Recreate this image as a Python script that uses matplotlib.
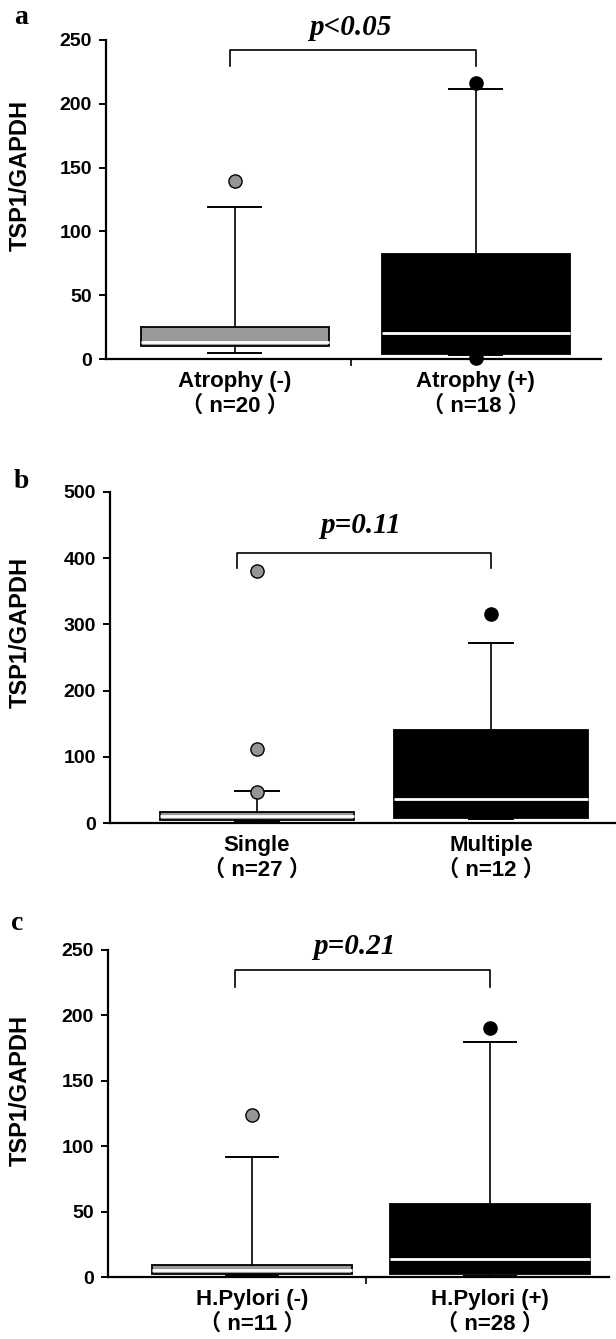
import matplotlib
matplotlib.use('Agg')
import matplotlib.pyplot as plt

plt.rcParams['font.family'] = ['Liberation Sans', 'Noto Sans CJK JP']
plt.rcParams['font.weight'] = 'bold'

# ---- data ----
a_labels = ['Atrophy (-)', 'Atrophy (+)']
a_n = [20, 18]
a_q1 = [10, 4]
a_med = [13.5, 20.5]
a_q3 = [25, 82.5]
a_lo = [5, 3]
a_hi = [119, 211.5]
a_out = [[139.5], [216.5, 0.8]]
a_p = 'p<0.05'

b_labels = ['Single', 'Multiple']
b_n = [27, 12]
b_q1 = [4, 8]
b_med = [10, 36]
b_q3 = [16.5, 141]
b_lo = [2.5, 5.5]
b_hi = [48.5, 272.5]
b_out = [[47, 112, 381], [316]]
b_p = 'p=0.11'

c_labels = ['H.Pylori (-)', 'H.Pylori (+)']
c_n = [11, 28]
c_q1 = [2.3, 2.3]
c_med = [5.6, 13.7]
c_q3 = [9.4, 56]
c_lo = [1.5, 1]
c_hi = [92, 180]
c_out = [[124], [190.5]]
c_p = 'p=0.21'

W, H = 616, 1339
fig = plt.figure(figsize=(W / 100, H / 100), dpi=100)


def px_axes(left, right, top, bottom):
    return fig.add_axes([left / W, 1 - bottom / H, (right - left) / W, (bottom - top) / H])


def draw_panel(ax, labels, n, q1, med, q3, lo, hi, out, ptxt, ymax, ystep, xlim,
               widths, capw, bracket, ptext_xy, midtick=True):
    stats = []
    for i in range(2):
        stats.append(dict(med=med[i], q1=q1[i], q3=q3[i], whislo=lo[i],
                          whishi=hi[i], fliers=out[i]))
    bp = ax.bxp(stats, positions=[1, 2], widths=widths, capwidths=capw,
                patch_artist=True, showfliers=True,
                boxprops=dict(edgecolor='black', linewidth=1.3),
                medianprops=dict(color='white', linewidth=2),
                whiskerprops=dict(color='black', linewidth=1.2),
                capprops=dict(color='black', linewidth=1.4))
    for box, fc in zip(bp['boxes'], ['#999999', 'black']):
        box.set_facecolor(fc)
    for fl, fc in zip(bp['fliers'], ['#959595', 'black']):
        fl.set_marker('o')
        fl.set_markersize(9.5)
        fl.set_markerfacecolor(fc)
        fl.set_markeredgecolor('black')
        fl.set_markeredgewidth(1)
        fl.set_clip_on(False)
        fl.set_zorder(5)

    ax.set_xlim(*xlim)
    ax.set_ylim(0, ymax)
    ax.set_yticks(range(0, ymax + 1, ystep))
    ax.tick_params(axis='y', labelsize=14, length=5, width=1.4, pad=5)
    ax.set_xticks([1, 2])
    ax.set_xticklabels([f'{l}\n（ n={k} ）' for l, k in zip(labels, n)])
    ax.tick_params(axis='x', which='major', length=0, labelsize=16, pad=9)
    if midtick:
        ax.set_xticks([1.48], minor=True)
        ax.tick_params(axis='x', which='minor', length=5, width=1.2)
    for s in ['top', 'right']:
        ax.spines[s].set_visible(False)
    for s in ['left', 'bottom']:
        ax.spines[s].set_linewidth(1.6)

    x1, x2, yt, yb = bracket
    ax.plot([x1, x1, x2, x2], [yb, yt, yt, yb], color='black', lw=1.2, clip_on=False)
    ax.text(ptext_xy[0], ptext_xy[1], ptxt, ha='center', va='center',
            family='Liberation Serif', weight='bold', style='italic', size=21,
            clip_on=False)


ax_a = px_axes(106, 601, 40, 359)
draw_panel(ax_a, a_labels, a_n, a_q1, a_med, a_q3, a_lo, a_hi, a_out, a_p,
           250, 50, (0.465, 2.519), 0.78, 0.22, (0.98, 2.0, 242, 229.6), (1.477, 260))

ax_b = px_axes(110, 616, 492, 823)
draw_panel(ax_b, b_labels, b_n, b_q1, b_med, b_q3, b_lo, b_hi, b_out, b_p,
           500, 100, (0.372, 2.534), 0.83, 0.19, (0.915, 2.0, 408, 384.5), (1.44, 450),
           midtick=False)

ax_c = px_axes(108, 609, 950, 1277)
draw_panel(ax_c, c_labels, c_n, c_q1, c_med, c_q3, c_lo, c_hi, c_out, c_p,
           250, 50, (0.395, 2.5), 0.84, 0.22, (0.93, 2.0, 234.8, 222), (1.43, 252.6))

for letter, (x, y) in zip('abc', [(21, 17), (21, 481), (17, 923)]):
    fig.text(x / W, 1 - y / H, letter, ha='center', va='center',
             family='Liberation Serif', weight='bold', size=20)

for y in [175, 632, 1090]:
    fig.text(20 / W, 1 - y / H, 'TSP1/GAPDH', ha='center', va='center',
             rotation=90, size=17, weight='bold')

fig.savefig('out.png', dpi=100)
